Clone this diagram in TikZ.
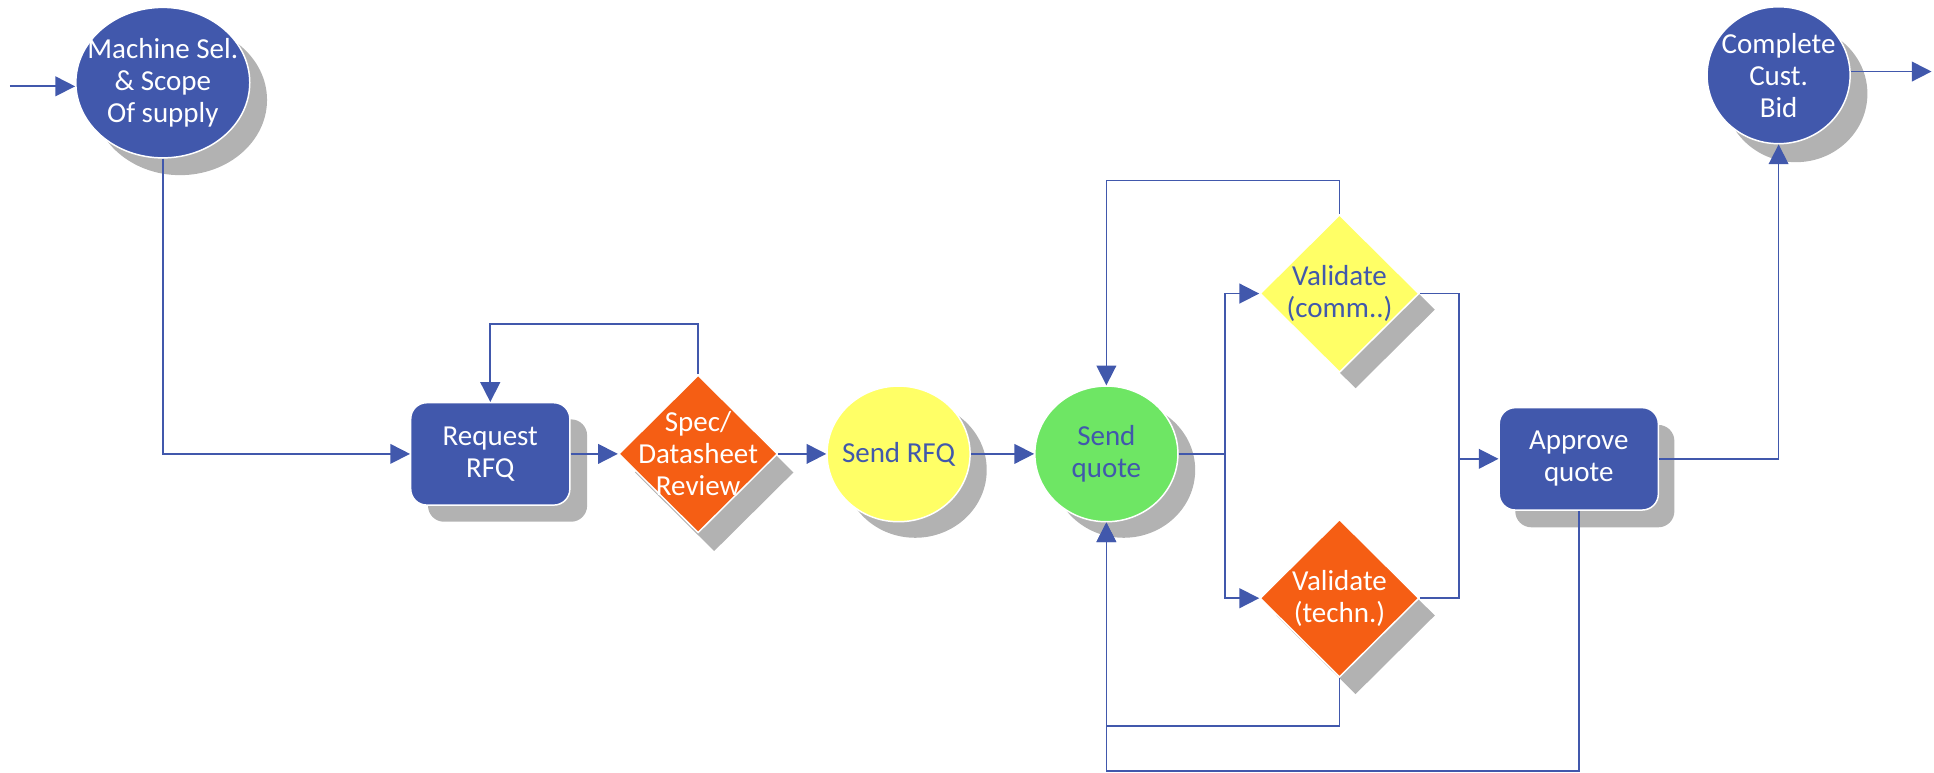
\documentclass[tikz,border=0pt]{standalone}
\usepackage{fontspec}
\setmainfont{Carlito}
\usetikzlibrary{shapes.geometric,arrows.meta,calc}
\definecolor{cblue}{RGB}{65,88,172}
\definecolor{corange}{RGB}{245,94,20}
\definecolor{cyellow}{RGB}{255,255,102}
\definecolor{cgreen}{RGB}{110,230,100}
\definecolor{cshadow}{RGB}{178,178,178}
\tikzset{
  conn/.style={draw=cblue, line width=1.4pt},
  arr/.style={conn, -{Triangle[length=16pt,width=16pt]}},
  ell/.style={ellipse, draw=white, line width=1.2pt, inner sep=0pt},
  shd/.style={fill=cshadow, draw=none},
  rbox/.style={rectangle, rounded corners=13pt, draw=white, line width=1.2pt, minimum width=129pt, minimum height=83pt, inner sep=0pt},
  dia/.style={diamond, draw=white, line width=1.2pt, minimum width=129pt, minimum height=128pt, inner sep=0pt},
  lbl/.style={font=\fontsize{23.5}{26}\selectfont, align=center, inner sep=0pt},
}
\begin{document}
\begin{tikzpicture}[x=1pt,y=-1pt]
\useasboundingbox (0,0) rectangle (1568,626);
% shadows
\node[ell, shd, minimum width=141pt, minimum height=122pt] (machS) at (146,81) {};
\node[rbox, shd] (reqS) at (411.5,381.5) {};
\node[dia, shd] (specS) at (579,383) {};
\node[ell, shd, minimum width=116pt, minimum height=110pt] (rfqS) at (742,381) {};
\node[ell, shd, minimum width=116pt, minimum height=110pt] (quoteS) at (911,381) {};
\node[dia, shd] (commS) at (1099,251) {};
\node[dia, shd] (technS) at (1099,499) {};
\node[rbox, shd] (apprS) at (1293,386) {};
\node[ell, shd, minimum width=116pt, minimum height=111pt] (bidS) at (1456,76) {};
% shapes
\node[ell, fill=cblue, minimum width=141pt, minimum height=122pt] (mach) at (132,67) {};
\node[rbox, fill=cblue] (req) at (397.5,368) {};
\node[dia, fill=corange] (spec) at (566,368) {};
\node[ell, fill=cyellow, minimum width=116pt, minimum height=110pt] (rfq) at (728.5,368) {};
\node[ell, fill=cgreen, minimum width=116pt, minimum height=110pt] (quote) at (897,368) {};
\node[dia, fill=cyellow] (comm) at (1086,238) {};
\node[dia, fill=corange] (techn) at (1086,485) {};
\node[rbox, fill=cblue] (appr) at (1280,372) {};
\node[ell, fill=cblue, minimum width=116pt, minimum height=111pt] (bid) at (1442,61) {};
% texts
\node[lbl, text=white] (machT) at (mach) {Machine Sel.\\\& Scope\\Of supply};
\node[lbl, text=white] (reqT) at (req) {Request\\RFQ};
\node[lbl, text=white] (specT) at (spec) {Spec/\\Datasheet\\Review};
\node[lbl, text=cblue] (rfqT) at (rfq) {Send RFQ};
\node[lbl, text=cblue] (quoteT) at (quote) {Send\\quote};
\node[lbl, text=cblue] (commT) at (comm) {Validate\\(comm..)};
\node[lbl, text=white] (technT) at (techn) {Validate\\(techn.)};
\node[lbl, text=white] (apprT) at (appr) {Approve\\quote};
\node[lbl, text=white] (bidT) at (bid) {Complete\\Cust.\\Bid};
% connectors
\coordinate (in) at (8,70);
\draw[arr] (in) -- (in -| mach.west);
\draw[arr] (mach.south) |- (req.west);
\draw[arr] (req.east) -- (spec.west);
\draw[arr] (spec.north) -- ++(0,-41) -| (req.north);
\draw[arr] (spec.east) -- (rfq.west);
\draw[arr] (rfq.east) -- (quote.west);
\coordinate (split) at (993,368);
\draw[conn] (quote.east) -- (split);
\draw[arr] (split) |- (comm.west);
\draw[arr] (split) |- (techn.west);
\draw[arr] (comm.north) -- ++(0,-27) -| (quote.north);
\coordinate (join) at (1183,372);
\draw[conn] (comm.east) -| (join);
\draw[conn] (techn.east) -| (join);
\draw[arr] (join) -- (appr.west);
\draw[arr] (techn.south) -- ++(0,39) -| (quote.south);
\draw[arr] (appr.south) -- ++(0,211) -| (quote.south);
\draw[arr] (appr.east) -| (bid.south);
\coordinate (out) at (1566,58);
\draw[arr] (out -| bid.east) -- (out);
\end{tikzpicture}
\end{document}
